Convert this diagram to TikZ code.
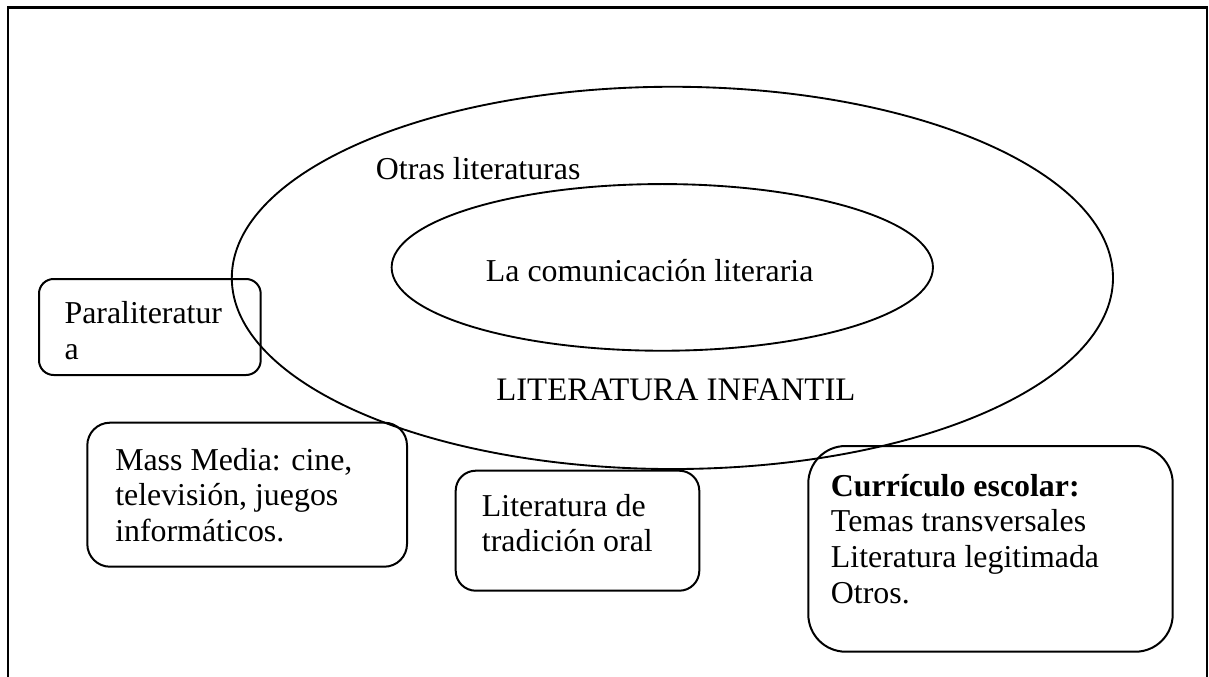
\documentclass[tikz,border=0pt]{standalone}
\usepackage{fontspec}
\setmainfont{Liberation Serif}
\usetikzlibrary{shapes.geometric,fit}
\begin{document}
\begin{tikzpicture}[x=0.75pt,y=-0.75pt,
  frameline/.style={line width=2pt},
  ring/.style={draw,ellipse,line width=1.4pt,inner sep=0pt},
  roundbox/.style={draw,rectangle,line width=1.5pt,inner sep=0pt},
  label/.style={inner sep=0pt,anchor=base west,align=left,
    font=\fontsize{23.9pt}{26.8pt}\selectfont}
]
\useasboundingbox (0,0) rectangle (1209,677);
% outer frame (open at the bottom)
\draw[frameline] (8,677) -- (8,7.5) -- (1207,7.5) -- (1207,677);

% ellipses
\node[ring,minimum width=660.9pt,minimum height=286.7pt] (outer) at (672.4,277.9) {};
\node[ring,minimum width=406pt,minimum height=125pt] (inner) at (662.3,267.4) {};

% corner coordinates of the boxes
\coordinate (p1) at (39,279);     \coordinate (p2) at (260.7,375);
\coordinate (m1) at (87.3,422.7); \coordinate (m2) at (407,566.7);
\coordinate (t1) at (455.7,470.7);\coordinate (t2) at (699.3,590.7);
\coordinate (c1) at (808.3,446);  \coordinate (c2) at (1172.7,651.7);

\node[roundbox,rounded corners=11pt,fit=(p1)(p2)] (para) {};
\node[roundbox,rounded corners=17pt,fit=(m1)(m2)] (mass) {};
\node[roundbox,rounded corners=15pt,fit=(t1)(t2)] (trad) {};
\node[roundbox,rounded corners=28pt,fit=(c1)(c2)] (curr) {};

% texts (base = baseline of the last line)
\node[label] (otras) at (375.7,179.3) {Otras literaturas};
\node[label] (comu) at (485.7,281.7) {La comunicación literaria};
\node[label,font=\fontsize{24.6pt}{26.8pt}\selectfont] (linf) at (496,400) {LITERATURA INFANTIL};
\node[label] (paratxt) at (64.3,359.3) {Paraliteratur\\a};
\node[label] (masstxt) at (115,541.5) {Mass Media: cine,\\televisión, juegos\\informáticos.};
\node[label] (tradtxt) at (481.7,551.8) {Literatura de\\tradición oral};
\node[label] (currtxt) at (830.7,603.3) {\textbf{Currículo escolar:}\\Temas transversales\\Literatura legitimada\\Otros.};
\end{tikzpicture}
\end{document}
